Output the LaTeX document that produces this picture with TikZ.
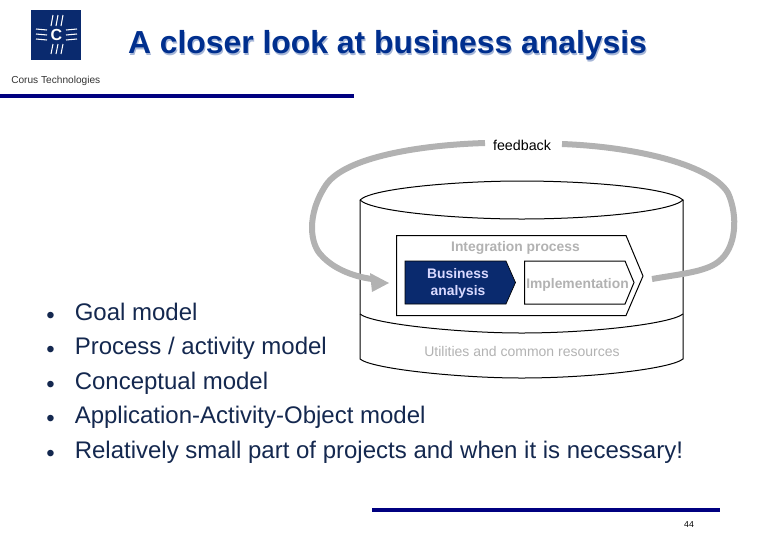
\documentclass[tikz,border=0pt]{standalone}
\usepackage{fontspec}
\setmainfont{Liberation Sans}
\usepackage[dvipsnames]{xcolor}
\usetikzlibrary{arrows.meta}
\definecolor{corusblue}{HTML}{0A2A6E}
\definecolor{rulenavy}{HTML}{000080}
\definecolor{titleblue}{HTML}{002F8E}
\definecolor{loopgray}{HTML}{B2B2B2}
\definecolor{labelgray}{HTML}{B2B2B2}
\definecolor{bodyblue}{HTML}{14284F}
\tikzset{
    rulebar/.style={rulenavy, line width=3pt},
    loopline/.style={loopgray, line width=4.5pt},
    bullet/.style={anchor=base west, inner sep=0pt, text=bodyblue, font=\fontsize{18}{20}\selectfont},
    thinline/.style={black, line width=0.75pt}
}

\begin{document}
\begin{tikzpicture}[x=0.75pt, y=-0.75pt]
        \useasboundingbox (0,0) rectangle (780,540);

        % Logo
        \fill[corusblue] (31,10) rectangle (81,60);
        \foreach \y in {29,34,39} {
            \draw[white, line width=0.8pt] (36,\y) -- (47,\y+1);
            \draw[white, line width=0.8pt] (66,\y+1) -- (77,\y);
        }
        \foreach \x in {51,56,61} {
            \draw[white, line width=0.8pt] (\x,26) -- (\x+2,15);
            \draw[white, line width=0.8pt] (\x,54) -- (\x+2,44);
        }
        \node[white, font=\bfseries\fontsize{12}{12}\selectfont] (logomark) at (56.5,35) {C};
        \node[anchor=west, inner sep=0pt, black!80, font=\fontsize{7.6}{9}\selectfont] (company) at (11,81) {Corus Technologies};

        % Title and rules
        \node[titleblue!35, font=\bfseries\fontsize{23.9}{26}\selectfont] at (388.5,47) {A closer look at business analysis};
        \node[titleblue, font=\bfseries\fontsize{23.9}{26}\selectfont] (title) at (387.5,45.5) {A closer look at business analysis};
        \draw[rulebar] (0,96) -- (354,96);
        \draw[rulebar] (372,510) -- (720,510);
        \node[black, font=\fontsize{6.5}{8}\selectfont] (pagenum) at (689,525) {44};

        % Cylinder
        \draw[thinline] (360,200) .. controls (372,188) and (460,181) .. (521,181)
            .. controls (590,181) and (670,188) .. (683,200)
            .. controls (670,212) and (590,219) .. (521,219)
            .. controls (460,219) and (372,212) .. (360,200);
        \draw[thinline] (360,200) -- (360,359) .. controls (372,369) and (460,378) .. (521,378)
            .. controls (590,378) and (670,369) .. (683,359) -- (683,200);
        \draw[thinline] (360,314) .. controls (372,324) and (460,333) .. (521,333)
            .. controls (590,333) and (670,324) .. (683,314);
        \node[labelgray, font=\fontsize{10.5}{12}\selectfont] (utilities) at (522,351) {Utilities and common resources};

        % Integration process
        \fill[white] (396.5,235.5) -- (626,235.5) -- (643,276) -- (626,315.5) -- (396.5,315.5) -- cycle;
        \draw[thinline] (396.5,235.5) -- (626,235.5) -- (643,276) -- (626,315.5) -- (396.5,315.5) -- cycle;
        \node[labelgray, font=\bfseries\fontsize{10.4}{12}\selectfont] (integration) at (515.5,247.5) {Integration process};
        \fill[corusblue, draw=black, line width=0.5pt] (405,261) -- (506,261) -- (515.5,282.5) -- (506,304) -- (405,304) -- cycle;
        \node[white!85!blue, align=center, font=\bfseries\fontsize{10.4}{12.8}\selectfont] (business) at (458,283.5) {Business\\analysis};
        \draw[thinline] (524.5,261) -- (625,261) -- (634,282.5) -- (625,304) -- (524.5,304) -- cycle;
        \node[labelgray, font=\bfseries\fontsize{10.4}{12}\selectfont] (implementation) at (577.5,285) {Implementation};

        % Feedback loop
        \node[black, font=\fontsize{10.7}{12}\selectfont] (feedback) at (522,145) {feedback};
        \coordinate (loopin) at (389,283);
        \coordinate (loopout) at (652,279);
        \coordinate (loopstart) at (485,143);
        \coordinate (loopend) at (562,144);
        \draw[loopline] (loopstart) .. controls (420,145) and (345,157) .. (326,185)
            .. controls (306,215) and (310,245) .. (322,256)
            .. controls (332,267) and (350,276) .. (372,279);
        \fill[loopgray] (loopin) -- (370,273) -- (372,292) -- cycle;
        \draw[loopline] (loopout) .. controls (680,274) and (705,272) .. (718,262)
            .. controls (737,248) and (738,215) .. (728,193)
            .. controls (712,166) and (640,147) .. (loopend);

        % Text
        \foreach \y/\t [count=\i] in {320.5/{Goal model}, 354.5/{Process / activity model}, 389/{Conceptual model}, 423.5/{Application-Activity-Object model}, 458/{Relatively small part of projects and when it is necessary!}} {
            \node[bullet] (bullet\i) at (46,\y+3) {•};
            \node[bullet] (item\i) at (74.5,\y) {\t};
        }
    \end{tikzpicture}
\end{document}
